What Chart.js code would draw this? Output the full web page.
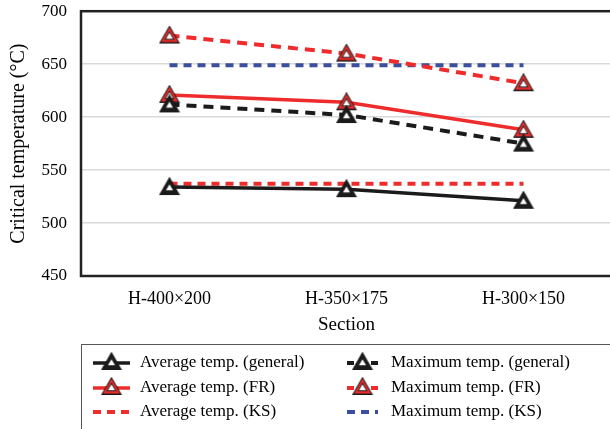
<!DOCTYPE html>
<html>
<head>
<meta charset="utf-8">
<script src="https://cdn.jsdelivr.net/npm/chart.js@4/dist/chart.umd.min.js"></script>
<style>
  html, body { margin: 0; padding: 0; background: #fff; overflow: hidden; }
  #myChart { display: block; margin-top: -13px; }
</style>
</head>
<body>
<canvas id="myChart" width="620" height="442"></canvas>
<script>
var sections = ['H-400×200', 'H-350×175', 'H-300×150'];
var avgGeneral = [534, 532, 521];
var maxGeneral = [612, 602, 575];
var avgFR = [621, 614, 588];
var maxFR = [677, 660, 632];
var avgKS = [537, 537, 537];
var maxKS = [649, 649, 649];
var yTicks = [450, 500, 550, 600, 650, 700];

var RED = '#ee2c2c', BLUE = '#3b4f9e', BLACK = '#1b1b1b';
var FONT = '"Liberation Serif", "Times New Roman", serif';
var SHIFT = 13; // canvas is pulled up by this much

// triangle marker pictures
function triPath(c, cx, cy, w) {
    var h = w * 0.87;
    c.beginPath();
    c.moveTo(cx, cy - h * 0.62);
    c.lineTo(cx + w / 2, cy + h * 0.38);
    c.lineTo(cx - w / 2, cy + h * 0.38);
    c.closePath();
}
function marker(layers) {
    var img = document.createElement('canvas');
    img.width = 22; img.height = 20;
    var c = img.getContext('2d');
    layers.forEach(function (l) {
        triPath(c, 11, 11, l[0]);
        c.fillStyle = l[1];
        c.fill();
    });
    return img;
}
var triGeneral = marker([[21, BLACK], [7, '#fff']]);
var triFR = marker([[21, BLACK], [17, RED], [10, BLACK], [7, '#fff']]);

var canvas = document.getElementById('myChart');

var legendItems = [
    ['Average temp. (general)', 0, 0, 0],
    ['Average temp. (FR)', 2, 0, 1],
    ['Average temp. (KS)', 4, 0, 2],
    ['Maximum temp. (general)', 1, 1, 0],
    ['Maximum temp. (FR)', 3, 1, 1],
    ['Maximum temp. (KS)', 5, 1, 2]
];

new Chart(canvas, {
    type: 'line',
    data: {
        labels: sections,
        datasets: [
            { label: 'Average temp. (general)', data: avgGeneral, borderColor: BLACK, borderWidth: 3.5, pointStyle: triGeneral },
            { label: 'Maximum temp. (general)', data: maxGeneral, borderColor: BLACK, borderWidth: 4, borderDash: [10, 7], pointStyle: triGeneral },
            { label: 'Average temp. (FR)', data: avgFR, borderColor: RED, borderWidth: 3.5, pointStyle: triFR },
            { label: 'Maximum temp. (FR)', data: maxFR, borderColor: RED, borderWidth: 4, borderDash: [10, 7], pointStyle: triFR },
            { label: 'Average temp. (KS)', data: avgKS, borderColor: RED, borderWidth: 4, borderDash: [8, 6], pointRadius: 0 },
            { label: 'Maximum temp. (KS)', data: maxKS, borderColor: BLUE, borderWidth: 4, borderDash: [8, 6], pointRadius: 0 }
        ]
    },
    options: {
        responsive: false,
        animation: false,
        layout: { padding: { top: 0, left: 0, right: 5, bottom: 93 } },
        elements: { line: { tension: 0, fill: false } },
        plugins: { legend: { display: false }, tooltip: { enabled: false } },
        scales: {
            x: {
                offset: true,
                grid: { display: false, drawTicks: false },
                border: { display: false },
                ticks: { color: '#000', padding: 12, font: { family: FONT, size: 18 } },
                title: { display: true, text: 'Section', color: '#000', padding: 0, font: { family: FONT, size: 19 } },
                afterFit: function (s) { s.height = 60; }
            },
            y: {
                min: 450, max: 700,
                afterBuildTicks: function (s) { s.ticks = yTicks.map(function (v) { return { value: v }; }); },
                grid: { color: '#d9d9d9', lineWidth: 1.5, drawTicks: false },
                border: { display: false },
                ticks: { color: '#000', padding: 14, font: { family: FONT, size: 17 } },
                title: { display: true, text: 'Critical temperature (°C)', color: '#000', padding: { top: 7, bottom: 0 }, font: { family: FONT, size: 20 } },
                afterFit: function (s) { s.width = 81; }
            }
        }
    },
    plugins: [{
        id: 'frameAndLegend',
        afterDraw: function (chart) {
            var ctx = chart.ctx, a = chart.chartArea;
            ctx.save();
            ctx.strokeStyle = '#222';
            ctx.lineWidth = 2.5;
            ctx.strokeRect(a.left, a.top, a.right - a.left, a.bottom - a.top);

            // legend box
            ctx.lineWidth = 1;
            ctx.strokeStyle = '#555';
            ctx.strokeRect(81.5, 344.5 + SHIFT, 560, 100);
            ctx.font = '17px ' + FONT;
            ctx.fillStyle = '#000';
            ctx.textBaseline = 'middle';
            var cols = [[93, 130, 140], [347, 378, 391]];
            var rows = [363 + SHIFT, 388 + SHIFT, 412 + SHIFT];
            legendItems.forEach(function (it) {
                var ds = chart.data.datasets[it[1]];
                var col = cols[it[2]], y = rows[it[3]];
                ctx.save();
                ctx.strokeStyle = ds.borderColor;
                ctx.lineWidth = ds.borderWidth;
                ctx.setLineDash(ds.borderDash ? (ds.pointRadius === 0 ? ds.borderDash : [7, 17]) : []);
                ctx.beginPath();
                ctx.moveTo(col[0], y);
                ctx.lineTo(col[1], y);
                ctx.stroke();
                ctx.restore();
                if (ds.pointRadius !== 0) {
                    var img = ds.pointStyle;
                    ctx.drawImage(img, (col[0] + col[1]) / 2 - img.width / 2, y - img.height / 2 - 1);
                }
                ctx.fillText(it[0], col[2], y);
            });
            ctx.restore();
        }
    }]
});
</script>
</body>
</html>
